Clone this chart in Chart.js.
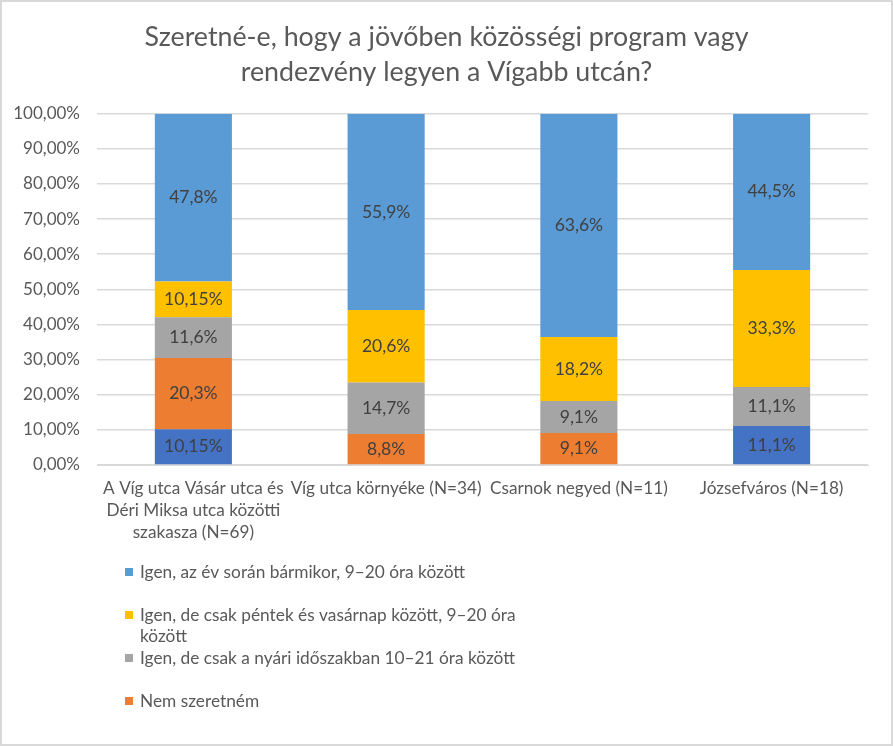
<!DOCTYPE html>
<html>
<head>
<meta charset="utf-8">
<script src="https://cdn.jsdelivr.net/npm/chart.js@4.4.1/dist/chart.umd.min.js"></script>
<style>
  body { margin: 0; background: #fff; }
  #wrap { width: 893px; height: 746px; }
</style>
</head>
<body>
<div id="wrap"><canvas id="chart" width="893" height="746"></canvas></div>
<script>
const categories = [
  ['A Víg utca Vásár utca és', 'Déri Miksa utca közötti', 'szakasza (N=69)'],
  'Víg utca környéke (N=34)',
  'Csarnok negyed (N=11)',
  'Józsefváros (N=18)'
];
// stacked from the bottom up
const darkBlueValues = [10.15, 0, 0, 11.1];
const nemValues = [20.3, 8.8, 9.1, 0];
const nyariValues = [11.6, 14.7, 9.1, 11.1];
const hetvegeValues = [10.15, 20.6, 18.2, 33.3];
const barmikorValues = [47.8, 55.9, 63.6, 44.5];
const yTicks = [0, 10, 20, 30, 40, 50, 60, 70, 80, 90, 100];

const FONT = 'Lato';
const TEXT = '#595959';

function pct(v, digits) {
  return (digits === undefined ? String(v) : v.toFixed(digits)).replace('.', ',') + '%';
}

const bgAndLabels = {
  id: 'bgAndLabels',
  afterLayout(chart) {
    // centre the title on the whole canvas, not on the padded box
    if (chart.titleBlock) {
      chart.titleBlock.left = 0;
      chart.titleBlock.right = chart.width;
    }
  },
  beforeDraw(chart) {
    const c = chart.ctx;
    c.save();
    c.fillStyle = '#fff';
    c.fillRect(0, 0, chart.width, chart.height);
    c.strokeStyle = '#d9d9d9';
    c.lineWidth = 2;
    c.strokeRect(1, 1, chart.width - 2, chart.height - 2);
    c.restore();
  },
  afterDatasetsDraw(chart) {
    const c = chart.ctx;
    c.save();
    c.font = '17.5px ' + FONT;
    c.fillStyle = '#404040';
    c.textAlign = 'center';
    c.textBaseline = 'middle';
    chart.data.datasets.forEach((ds, i) => {
      chart.getDatasetMeta(i).data.forEach((bar, j) => {
        const v = ds.data[j];
        if (!v) return;
        c.fillText(pct(v), bar.x, (bar.y + bar.base) / 2);
      });
    });
    c.restore();
  },
  afterDraw(chart) {
    // vertical legend under the axis, top series first
    const c = chart.ctx;
    const x = chart.scales.x;
    c.save();
    c.font = '17.3px ' + FONT;
    c.textBaseline = 'middle';
    let y = x.bottom + 26;
    const items = chart.data.datasets.filter(d => !d.hideInLegend).reverse();
    items.forEach(ds => {
      c.fillStyle = ds.backgroundColor;
      c.fillRect(125, y - 4, 8, 8);
      c.fillStyle = TEXT;
      const words = ds.label.split(' ');
      let line = '', ly = y;
      words.forEach(w => {
        const test = line ? line + ' ' + w : w;
        if (c.measureText(test).width > 400 && line) {
          c.fillText(line, 140, ly);
          line = w;
          ly += 21;
        } else {
          line = test;
        }
      });
      c.fillText(line, 140, ly);
      y += 43;
    });
    c.restore();
  }
};

new Chart(document.getElementById('chart'), {
  type: 'bar',
  data: {
    labels: categories,
    datasets: [
      { label: '', data: darkBlueValues, backgroundColor: '#4472C4', hideInLegend: true },
      { label: 'Nem szeretném', data: nemValues, backgroundColor: '#ED7D31' },
      { label: 'Igen, de csak a nyári időszakban 10–21 óra között', data: nyariValues, backgroundColor: '#A5A5A5' },
      { label: 'Igen, de csak péntek és vasárnap között, 9–20 óra között', data: hetvegeValues, backgroundColor: '#FFC000' },
      { label: 'Igen, az év során bármikor, 9–20 óra között', data: barmikorValues, backgroundColor: '#5B9BD5' }
    ]
  },
  options: {
    responsive: false,
    animation: false,
    categoryPercentage: 0.8,
    barPercentage: 0.5,
    layout: { padding: { left: 0, right: 25, top: 0, bottom: 200 } },
    plugins: {
      legend: { display: false },
      tooltip: { enabled: false },
      title: {
        display: true,
        text: ['Szeretné-e, hogy a jövőben közösségi program vagy', 'rendezvény legyen a Vígabb utcán?'],
        color: TEXT,
        font: { family: FONT, size: 26.8, weight: 'normal', lineHeight: 1.3 },
        padding: { top: 20, bottom: 24 }
      }
    },
    scales: {
      x: {
        stacked: true,
        grid: { display: false, drawTicks: false },
        border: { color: '#d9d9d9' },
        ticks: {
          color: TEXT,
          font: { family: FONT, size: 17.2, lineHeight: 1.28 },
          maxRotation: 0, minRotation: 0, autoSkip: false, padding: 12
        },
        afterFit(s) { s.height = 81; }
      },
      y: {
        stacked: true,
        min: 0, max: 100,
        afterBuildTicks(s) { s.ticks = yTicks.map(v => ({ value: v })); },
        grid: { color: '#d9d9d9', lineWidth: 1.5, drawTicks: false },
        border: { display: false },
        ticks: {
          color: TEXT,
          font: { family: FONT, size: 17 },
          padding: 17,
          callback: v => pct(v, 2)
        },
        afterFit(s) { s.width = 97; }
      }
    }
  },
  plugins: [bgAndLabels]
});
</script>
</body>
</html>
